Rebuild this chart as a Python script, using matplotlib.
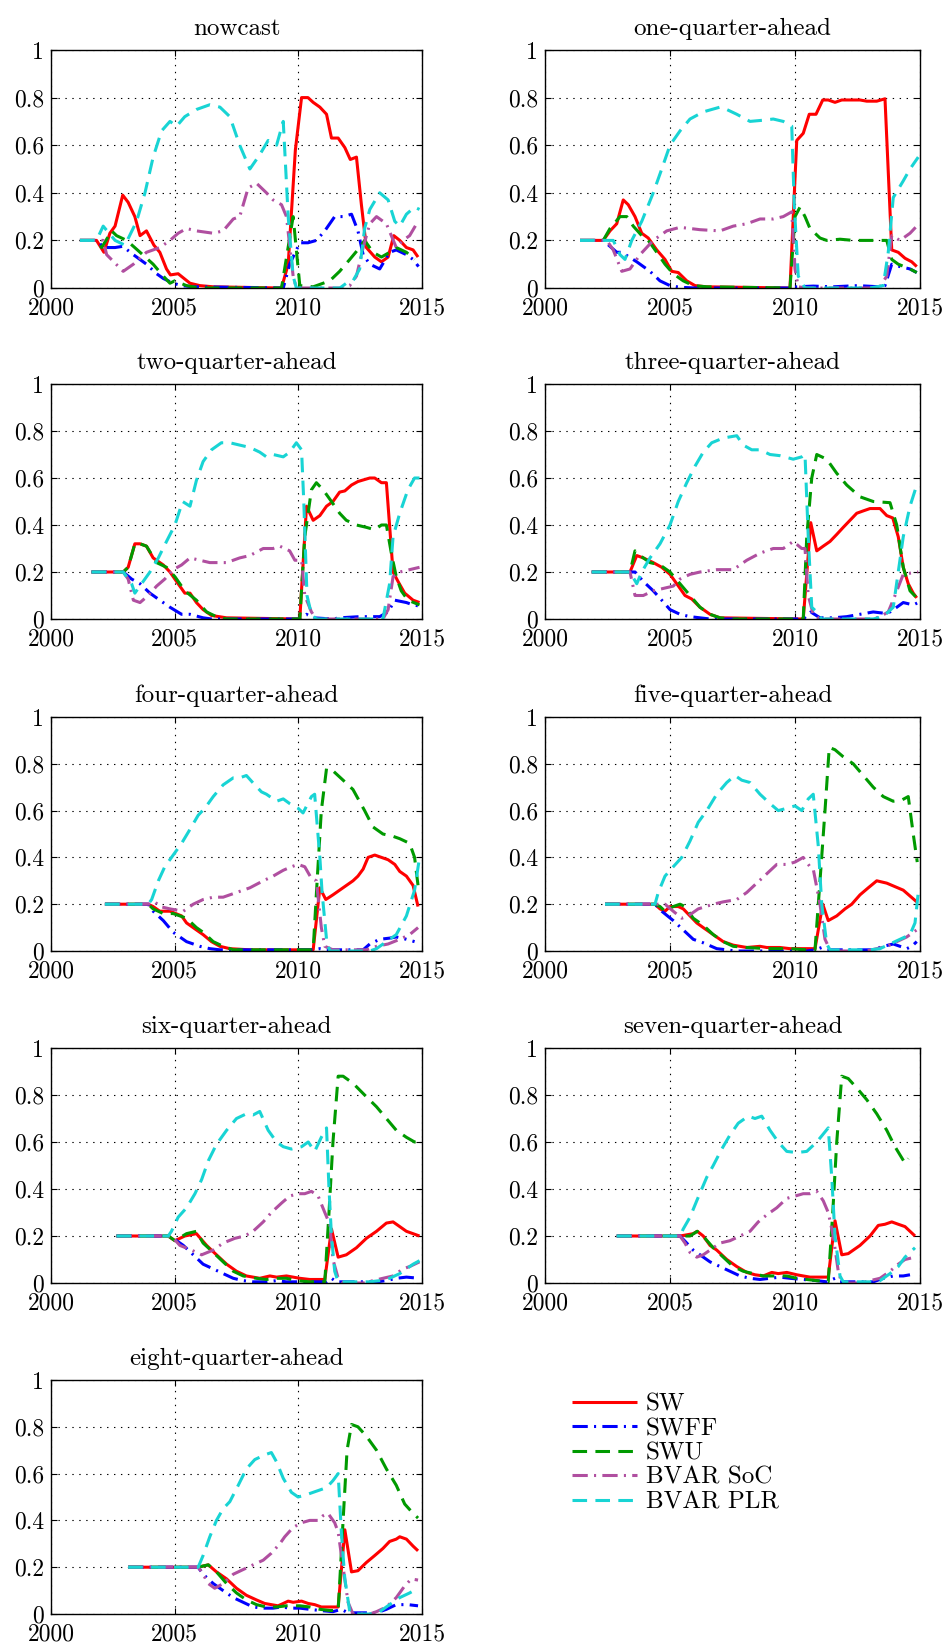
import matplotlib
matplotlib.use("Agg")
import matplotlib.pyplot as plt

plt.rcParams['font.family'] = ['cmr10', 'DejaVu Serif']
plt.rcParams['mathtext.fontset'] = 'cm'
plt.rcParams['axes.formatter.use_mathtext'] = True
plt.rcParams['lines.scale_dashes'] = False

# ---------------- data (time in years, weight) ----------------
titles = ["nowcast", "one-quarter-ahead", "two-quarter-ahead", "three-quarter-ahead",
          "four-quarter-ahead", "five-quarter-ahead", "six-quarter-ahead",
          "seven-quarter-ahead", "eight-quarter-ahead"]
series_names = ["SW", "SWFF", "SWU", "BVAR SoC", "BVAR PLR"]
xticks = [2000, 2005, 2010, 2015]
yticks = [0, 0.2, 0.4, 0.6, 0.8, 1]
ytick_labels = ["0", "0.2", "0.4", "0.6", "0.8", "1"]

# nowcast
h0_sw_t = [2001.17, 2001.84, 2002.14, 2002.38, 2002.59, 2002.9, 2003.12, 2003.39, 2003.6, 2003.86, 2004.16, 2004.4, 2004.67, 2004.83, 2005.14, 2005.62, 2006.02, 2006.56, 2009.32, 2009.59, 2009.88, 2010.13, 2010.39, 2010.6, 2010.87, 2011.14, 2011.34, 2011.61, 2011.88, 2012.1, 2012.35, 2012.55, 2012.75, 2013.09, 2013.36, 2013.63, 2013.86, 2014.1, 2014.37, 2014.64, 2014.84]
h0_sw_v = [.2, .2, .15, .23, .26, .39, .36, .30, .22, .24, .18, .15, .08, .055, .06, .02, .01, .005, 0, .1, .58, .80, .80, .78, .76, .73, .63, .63, .59, .54, .55, .35, .17, .13, .11, .13, .22, .20, .17, .16, .13]
h0_swff_t = [2001.17, 2001.84, 2002.14, 2002.59, 2002.9, 2003.33, 2003.86, 2004.27, 2004.54, 2004.94, 2005.28, 2005.75, 2009.39, 2009.65, 2010.06, 2010.39, 2010.73, 2011.07, 2011.47, 2011.81, 2012.15, 2012.41, 2012.62, 2012.89, 2013.29, 2013.69, 2013.96, 2014.37, 2014.64, 2014.86]
h0_swff_v = [.2, .2, .17, .17, .175, .14, .10, .06, .04, .02, .01, .005, 0, .10, .19, .19, .20, .24, .30, .30, .31, .24, .14, .10, .08, .15, .16, .14, .12, .09]
h0_swu_t = [2001.17, 2001.84, 2002.05, 2002.45, 2002.65, 2003.06, 2003.6, 2004.13, 2004.54, 2004.81, 2005.0, 2005.48, 2006.0, 2009.32, 2009.79, 2010.06, 2010.6, 2011.27, 2011.67, 2012.08, 2012.48, 2012.68, 2013.02, 2013.36, 2013.69, 2013.96, 2014.37, 2014.7]
h0_swu_v = [.2, .2, .17, .24, .22, .20, .15, .10, .05, .02, .03, .01, 0, 0, .30, .01, .005, .03, .07, .12, .17, .20, .15, .13, .15, .17, .15, .12]
h0_soc_t = [2001.17, 2001.84, 2002.11, 2002.25, 2002.92, 2003.33, 2003.86, 2004.4, 2004.81, 2005.14, 2005.48, 2005.88, 2006.56, 2006.96, 2007.37, 2007.63, 2007.97, 2008.31, 2008.71, 2008.98, 2009.32, 2009.52, 2009.79, 2009.92, 2011.81, 2012.08, 2012.35, 2012.62, 2012.89, 2013.16, 2013.56, 2013.76, 2013.96, 2014.23, 2014.5, 2014.84]
h0_soc_v = [.2, .2, .2, .14, .07, .10, .15, .17, .20, .23, .25, .24, .23, .24, .29, .30, .42, .44, .40, .37, .35, .30, .05, 0, 0, .01, .05, .17, .27, .30, .27, .22, .17, .20, .22, .28]
h0_plr_t = [2001.17, 2001.84, 2002.11, 2002.59, 2002.99, 2003.46, 2003.8, 2004.13, 2004.47, 2004.81, 2005.08, 2005.41, 2005.88, 2006.42, 2006.83, 2007.23, 2007.63, 2008.04, 2008.44, 2008.78, 2009.12, 2009.39, 2009.59, 2009.79, 2009.92, 2011.68, 2011.94, 2012.21, 2012.48, 2012.68, 2012.89, 2013.29, 2013.63, 2013.9, 2014.1, 2014.37, 2014.7, 2014.9]
h0_plr_v = [.2, .2, .26, .20, .18, .28, .40, .55, .66, .70, .68, .72, .75, .77, .76, .72, .60, .50, .56, .62, .60, .70, .30, .05, 0, 0, .02, .03, .08, .25, .33, .40, .37, .28, .26, .31, .34, .33]

# one-quarter-ahead
h1_sw_t = [2001.4, 2002.33, 2002.6, 2002.87, 2003.13, 2003.33, 2003.6, 2003.87, 2004.13, 2004.47, 2004.8, 2005.07, 2005.33, 2005.67, 2006.0, 2006.47, 2009.8, 2010.07, 2010.33, 2010.57, 2010.84, 2011.11, 2011.33, 2011.6, 2011.87, 2012.33, 2012.6, 2012.87, 2013.27, 2013.6, 2013.87, 2014.13, 2014.4, 2014.67, 2014.87]
h1_sw_v = [.2, .2, .24, .27, .37, .35, .30, .23, .21, .16, .12, .07, .065, .03, .01, .005, 0, .62, .65, .73, .73, .79, .79, .78, .79, .79, .79, .785, .785, .795, .16, .15, .125, .11, .09]
h1_swff_t = [2001.4, 2002.33, 2002.87, 2003.07, 2003.67, 2004.2, 2004.6, 2005.0, 2005.4, 2006.0, 2009.8, 2010.07, 2010.73, 2011.5, 2012.5, 2013.4, 2013.6, 2013.87, 2014.2, 2014.6, 2014.87]
h1_swff_v = [.2, .2, .15, .15, .11, .07, .03, .01, .003, 0, 0, .005, .008, .005, .01, .005, .01, .10, .09, .08, .065]
h1_swu_t = [2001.4, 2002.33, 2002.6, 2003.0, 2003.27, 2003.53, 2003.87, 2004.13, 2004.47, 2004.8, 2005.13, 2005.53, 2005.93, 2006.47, 2009.8, 2010.0, 2010.2, 2010.4, 2010.6, 2011.0, 2011.27, 2011.8, 2012.33, 2013.4, 2013.67, 2013.87, 2014.13, 2014.6, 2014.87]
h1_swu_v = [.2, .2, .25, .30, .30, .26, .22, .20, .15, .10, .06, .03, .01, .005, 0, .30, .34, .30, .25, .21, .20, .205, .20, .20, .20, .12, .10, .08, .065]
h1_soc_t = [2001.4, 2002.33, 2002.47, 2002.73, 2003.07, 2003.4, 2003.8, 2004.33, 2004.87, 2005.4, 2006.2, 2007.0, 2007.53, 2008.07, 2008.6, 2009.13, 2009.53, 2009.87, 2010.0, 2010.13, 2010.5, 2013.0, 2013.4, 2013.67, 2013.87, 2014.2, 2014.6, 2014.87]
h1_soc_v = [.2, .2, .2, .16, .07, .08, .14, .20, .24, .255, .245, .24, .26, .27, .29, .29, .30, .32, .08, .005, 0, 0, .005, .05, .22, .20, .23, .26]
h1_plr_t = [2001.4, 2002.33, 2002.73, 2003.0, 2003.2, 2003.47, 2003.87, 2004.33, 2004.67, 2005.0, 2005.4, 2005.8, 2006.33, 2007.0, 2007.27, 2007.67, 2008.2, 2008.73, 2009.13, 2009.53, 2009.87, 2009.97, 2010.13, 2010.4, 2013.0, 2013.53, 2013.73, 2013.93, 2014.33, 2014.6, 2014.93]
h1_plr_v = [.2, .2, .20, .14, .12, .20, .28, .40, .50, .60, .66, .71, .74, .76, .75, .73, .70, .705, .71, .70, .68, .35, .05, 0, 0, .01, .15, .38, .45, .50, .55]

# two-quarter-ahead
h2_sw_t = [2001.64, 2002.92, 2003.12, 2003.39, 2003.6, 2003.86, 2004.13, 2004.54, 2004.81, 2005.14, 2005.41, 2005.62, 2005.88, 2006.15, 2006.49, 2007.1, 2010.06, 2010.33, 2010.6, 2010.87, 2011.14, 2011.4, 2011.67, 2011.88, 2012.15, 2012.41, 2012.89, 2013.09, 2013.36, 2013.56, 2013.83, 2014.03, 2014.3, 2014.64, 2014.9]
h2_sw_v = [.2, .2, .22, .32, .32, .31, .26, .23, .20, .15, .11, .11, .07, .04, .015, .005, 0, .48, .42, .44, .48, .50, .54, .545, .57, .585, .60, .60, .58, .58, .20, .16, .11, .08, .07]
h2_swff_t = [2001.64, 2002.92, 2003.26, 2003.6, 2004.0, 2004.4, 2004.81, 2005.28, 2005.62, 2006.15, 2006.5, 2010.06, 2010.33, 2010.6, 2011.4, 2011.67, 2012.48, 2013.29, 2013.63, 2013.9, 2014.37, 2014.64, 2014.9]
h2_swff_v = [.2, .2, .17, .15, .11, .08, .05, .02, .02, .005, 0, 0, .02, .005, 0, .005, .01, .01, .03, .08, .07, .06, .055]
h2_swu_t = [2001.64, 2002.92, 2003.12, 2003.39, 2003.6, 2003.86, 2004.27, 2004.67, 2005.01, 2005.41, 2005.88, 2006.29, 2006.69, 2007.1, 2010.06, 2010.26, 2010.53, 2010.73, 2011.0, 2011.34, 2011.67, 2011.94, 2012.35, 2012.75, 2013.09, 2013.36, 2013.56, 2013.76, 2013.96, 2014.16, 2014.43, 2014.9]
h2_swu_v = [.2, .2, .22, .32, .32, .31, .24, .22, .18, .12, .08, .03, .01, 0, 0, .35, .55, .58, .55, .50, .45, .42, .40, .39, .38, .40, .40, .28, .18, .12, .08, .06]
h2_soc_t = [2001.64, 2002.92, 2003.12, 2003.33, 2003.6, 2003.93, 2004.27, 2004.6, 2004.94, 2005.28, 2005.62, 2006.02, 2006.42, 2007.1, 2007.63, 2008.04, 2008.58, 2008.98, 2009.25, 2009.65, 2009.86, 2010.13, 2010.26, 2010.53, 2010.73, 2013.42, 2013.63, 2013.83, 2014.1, 2014.5, 2014.9]
h2_soc_v = [.2, .2, .17, .08, .07, .10, .14, .17, .21, .23, .26, .25, .24, .24, .26, .27, .30, .30, .31, .29, .25, .25, .10, .03, 0, 0, .04, .18, .20, .21, .22]
h2_plr_t = [2001.64, 2002.92, 2003.26, 2003.39, 2003.66, 2004.0, 2004.34, 2004.67, 2005.01, 2005.32, 2005.62, 2005.88, 2006.15, 2006.49, 2006.89, 2007.23, 2007.63, 2008.04, 2008.44, 2008.71, 2008.98, 2009.39, 2009.65, 2009.92, 2010.13, 2010.22, 2010.35, 2010.53, 2010.73, 2013.42, 2013.69, 2013.83, 2014.1, 2014.43, 2014.7, 2014.97]
h2_plr_v = [.2, .2, .15, .11, .15, .20, .26, .33, .40, .50, .48, .59, .67, .72, .75, .75, .74, .73, .71, .69, .70, .69, .71, .75, .72, .50, .10, .02, 0, 0, .15, .35, .45, .55, .60, .60]

# three-quarter-ahead
h3_sw_t = [2001.87, 2003.4, 2003.67, 2003.93, 2004.33, 2004.67, 2005.0, 2005.27, 2005.6, 2005.87, 2006.2, 2006.6, 2007.0, 2010.33, 2010.63, 2010.87, 2011.13, 2011.4, 2011.67, 2011.93, 2012.2, 2012.47, 2012.73, 2013.0, 2013.4, 2013.67, 2013.91, 2014.13, 2014.33, 2014.53, 2014.73, 2014.87]
h3_sw_v = [.2, .2, .27, .26, .24, .22, .19, .15, .10, .085, .05, .02, .005, 0, .41, .29, .31, .33, .36, .39, .42, .45, .46, .47, .47, .44, .43, .35, .22, .15, .11, .09]
h3_swff_t = [2001.87, 2003.4, 2003.6, 2003.93, 2004.33, 2004.67, 2005.0, 2005.4, 2005.8, 2006.2, 2006.6, 2010.33, 2010.63, 2011.0, 2011.53, 2012.07, 2012.6, 2013.13, 2013.53, 2013.8, 2014.07, 2014.33, 2014.73, 2014.93]
h3_swff_v = [.2, .2, .2, .16, .12, .08, .04, .02, .01, .005, 0, 0, .03, .005, .005, .01, .02, .03, .025, .03, .05, .07, .06, .07]
h3_swu_t = [2001.87, 2003.4, 2003.6, 2003.8, 2004.2, 2004.6, 2005.0, 2005.4, 2005.8, 2006.2, 2006.6, 2007.0, 2007.5, 2010.33, 2010.47, 2010.67, 2010.87, 2011.27, 2011.67, 2012.07, 2012.6, 2013.13, 2013.8, 2014.07, 2014.33, 2014.6, 2014.87]
h3_swu_v = [.2, .2, .29, .27, .24, .23, .20, .15, .10, .05, .02, .005, 0, 0, .35, .60, .70, .68, .62, .57, .52, .50, .495, .40, .22, .12, .09]
h3_soc_t = [2001.87, 2003.4, 2003.6, 2003.93, 2004.33, 2005.13, 2005.4, 2005.8, 2006.2, 2006.87, 2007.53, 2008.07, 2008.6, 2009.13, 2009.53, 2009.93, 2010.27, 2010.4, 2010.53, 2010.73, 2011.0, 2013.13, 2013.4, 2013.73, 2014.0, 2014.33, 2014.6, 2014.93]
h3_soc_v = [.2, .2, .10, .10, .12, .14, .17, .19, .20, .21, .21, .25, .28, .30, .30, .33, .30, .30, .10, .02, 0, 0, .01, .03, .10, .19, .195, .20]
h3_plr_t = [2001.87, 2003.4, 2003.67, 2003.87, 2004.2, 2004.6, 2005.0, 2005.33, 2005.67, 2006.0, 2006.33, 2006.67, 2007.13, 2007.67, 2007.93, 2008.27, 2008.6, 2009.0, 2009.4, 2009.93, 2010.27, 2010.4, 2010.53, 2010.67, 2010.87, 2011.07, 2013.13, 2013.53, 2013.93, 2014.13, 2014.33, 2014.6, 2014.87]
h3_plr_v = [.2, .2, .15, .20, .26, .32, .40, .50, .58, .65, .71, .75, .77, .78, .74, .72, .72, .70, .695, .68, .69, .70, .35, .05, .03, 0, 0, .01, .05, .20, .35, .48, .57]

# four-quarter-ahead
h4_sw_t = [2002.18, 2003.93, 2004.13, 2004.4, 2004.81, 2005.28, 2005.48, 2005.88, 2006.15, 2006.49, 2006.83, 2007.23, 2008.04, 2010.6, 2010.87, 2011.11, 2011.4, 2011.67, 2011.94, 2012.21, 2012.41, 2012.62, 2012.82, 2013.09, 2013.36, 2013.63, 2013.9, 2014.1, 2014.37, 2014.64, 2014.84]
h4_sw_v = [.2, .2, .19, .17, .17, .15, .12, .09, .07, .04, .02, .01, .005, .005, .27, .22, .24, .26, .28, .30, .32, .35, .40, .41, .40, .39, .37, .34, .32, .28, .19]
h4_swff_t = [2002.18, 2003.93, 2004.13, 2004.54, 2004.94, 2005.48, 2006.02, 2006.42, 2006.83, 2010.6, 2010.87, 2011.14, 2012.21, 2012.62, 2012.89, 2013.29, 2013.69, 2013.96, 2014.37, 2014.7]
h4_swff_v = [.2, .2, .17, .13, .08, .04, .02, .01, .005, .005, .01, .005, .005, .005, .03, .05, .055, .06, .05, .04]
h4_swu_t = [2002.18, 2003.93, 2004.13, 2004.54, 2004.94, 2005.48, 2005.88, 2006.15, 2006.56, 2006.96, 2007.37, 2010.6, 2010.76, 2010.93, 2011.14, 2011.4, 2011.81, 2012.21, 2012.68, 2013.02, 2013.42, 2013.83, 2014.1, 2014.5, 2014.7, 2014.84]
h4_swu_v = [.2, .2, .18, .16, .16, .14, .10, .08, .04, .02, .005, .005, .30, .60, .78, .77, .73, .69, .60, .53, .50, .49, .48, .46, .40, .28]
h4_soc_t = [2002.18, 2003.93, 2004.2, 2004.4, 2004.81, 2005.35, 2005.75, 2006.15, 2006.56, 2006.96, 2007.5, 2008.04, 2008.58, 2008.98, 2009.39, 2009.72, 2009.99, 2010.26, 2010.53, 2010.73, 2010.93, 2011.07, 2011.4, 2012.75, 2013.16, 2013.63, 2014.1, 2014.5, 2014.84]
h4_soc_v = [.2, .2, .21, .19, .18, .17, .20, .22, .23, .23, .25, .27, .30, .32, .345, .36, .37, .36, .31, .30, .10, .02, .005, .005, .02, .03, .05, .07, .10]
h4_plr_t = [2002.18, 2003.93, 2004.07, 2004.34, 2004.6, 2004.94, 2005.28, 2005.62, 2005.95, 2006.22, 2006.56, 2006.96, 2007.37, 2007.63, 2007.9, 2008.24, 2008.51, 2008.71, 2009.12, 2009.39, 2009.65, 2009.99, 2010.19, 2010.53, 2010.66, 2010.87, 2010.96, 2011.14, 2011.27, 2012.89, 2013.16, 2013.56, 2013.96, 2014.37, 2014.7, 2014.9]
h4_plr_v = [.2, .2, .22, .30, .36, .41, .46, .52, .58, .61, .66, .71, .74, .74, .75, .71, .68, .67, .64, .65, .63, .61, .59, .66, .67, .40, .25, .05, 0, 0, .01, .04, .07, .15, .26, .40]

# five-quarter-ahead
h5_sw_t = [2002.4, 2004.4, 2004.6, 2004.8, 2005.0, 2005.33, 2005.53, 2005.8, 2006.07, 2006.33, 2006.73, 2007.13, 2007.53, 2007.8, 2008.07, 2008.6, 2008.87, 2009.4, 2009.8, 2010.2, 2010.47, 2010.8, 2011.11, 2011.33, 2011.67, 2012.0, 2012.27, 2012.6, 2012.93, 2013.27, 2013.67, 2014.33, 2014.87]
h5_sw_v = [.2, .2, .18, .17, .19, .19, .18, .15, .12, .10, .07, .04, .025, .02, .015, .02, .015, .015, .01, .01, .01, .01, .20, .13, .15, .18, .20, .24, .27, .30, .29, .26, .21]
h5_swff_t = [2002.4, 2004.4, 2004.67, 2005.13, 2005.53, 2005.93, 2006.33, 2006.87, 2007.27, 2007.6, 2010.47, 2010.8, 2011.07, 2011.4, 2013.13, 2013.53, 2013.93, 2014.47, 2014.67, 2014.87]
h5_swff_v = [.2, .2, .17, .13, .09, .05, .035, .01, .005, 0, 0, .005, .015, .005, .005, .02, .03, .01, .02, .04]
h5_swu_t = [2002.4, 2004.4, 2004.6, 2004.8, 2005.13, 2005.4, 2005.6, 2005.93, 2006.33, 2006.73, 2007.13, 2007.53, 2008.07, 2008.87, 2009.8, 2010.47, 2010.8, 2011.0, 2011.2, 2011.37, 2011.6, 2011.93, 2012.33, 2012.73, 2013.13, 2013.53, 2013.93, 2014.27, 2014.53, 2014.73, 2014.89]
h5_swu_v = [.2, .2, .19, .17, .19, .20, .19, .14, .11, .07, .04, .02, .015, .01, .01, .005, .005, .30, .60, .87, .86, .83, .80, .75, .70, .66, .64, .645, .66, .50, .38]
h5_soc_t = [2002.4, 2004.4, 2004.8, 2005.13, 2005.47, 2005.73, 2006.13, 2006.73, 2007.13, 2007.67, 2008.07, 2008.47, 2008.87, 2009.27, 2009.67, 2010.0, 2010.33, 2010.6, 2010.73, 2011.0, 2011.2, 2011.4, 2011.6, 2012.87, 2013.27, 2013.67, 2014.07, 2014.47, 2014.73, 2014.87]
h5_soc_v = [.2, .2, .20, .17, .14, .15, .18, .20, .21, .22, .25, .29, .33, .37, .37, .38, .40, .36, .35, .20, .05, .005, 0, 0, .01, .02, .04, .06, .08, .09]
h5_plr_t = [2002.4, 2004.4, 2004.53, 2004.8, 2005.13, 2005.47, 2005.8, 2006.13, 2006.47, 2006.87, 2007.27, 2007.6, 2007.87, 2008.2, 2008.6, 2009.0, 2009.33, 2009.67, 2010.0, 2010.27, 2010.53, 2010.73, 2010.93, 2011.07, 2011.27, 2011.4, 2013.0, 2013.4, 2013.8, 2014.2, 2014.6, 2014.8, 2014.93]
h5_plr_v = [.2, .2, .25, .32, .36, .40, .47, .55, .60, .67, .72, .75, .73, .72, .67, .63, .60, .61, .62, .60, .65, .67, .45, .20, .03, .005, .005, .01, .03, .05, .07, .12, .25]

# six-quarter-ahead
h6_sw_t = [2002.65, 2004.74, 2005.01, 2005.41, 2005.88, 2006.29, 2006.69, 2007.1, 2007.5, 2007.9, 2008.17, 2008.44, 2008.85, 2009.12, 2009.52, 2009.79, 2010.06, 2010.46, 2011.07, 2011.34, 2011.61, 2011.94, 2012.35, 2012.75, 2013.16, 2013.56, 2013.83, 2014.37, 2014.9]
h6_sw_v = [.2, .2, .18, .20, .21, .16, .12, .08, .05, .03, .025, .02, .03, .025, .03, .025, .02, .015, .015, .23, .11, .12, .15, .19, .22, .255, .26, .22, .20]
h6_swff_t = [2002.65, 2004.74, 2004.94, 2005.35, 2005.75, 2006.15, 2006.56, 2006.96, 2007.37, 2007.77, 2008.17, 2008.71, 2009.12, 2009.52, 2011.14, 2011.34, 2011.54, 2013.16, 2013.56, 2013.96, 2014.37, 2014.9]
h6_swff_v = [.2, .2, .19, .16, .12, .08, .06, .04, .02, .01, .005, .005, .01, .005, .005, .02, .005, .005, .01, .02, .025, .02]
h6_swu_t = [2002.65, 2004.74, 2005.01, 2005.48, 2005.88, 2006.15, 2006.56, 2006.96, 2007.37, 2007.77, 2008.31, 2008.71, 2009.12, 2009.52, 2009.92, 2010.46, 2011.07, 2011.24, 2011.4, 2011.61, 2011.81, 2012.21, 2012.68, 2013.16, 2013.56, 2013.96, 2014.37, 2014.7, 2014.9]
h6_swu_v = [.2, .2, .18, .21, .22, .17, .13, .09, .05, .03, .02, .015, .02, .02, .01, .005, .005, .30, .60, .88, .88, .85, .80, .75, .70, .65, .62, .60, .60]
h6_soc_t = [2002.65, 2004.74, 2004.87, 2005.21, 2005.68, 2006.09, 2006.56, 2006.96, 2007.43, 2007.83, 2008.17, 2008.58, 2008.91, 2009.32, 2009.65, 2009.99, 2010.26, 2010.53, 2010.8, 2011.07, 2011.27, 2011.4, 2011.61, 2011.81, 2012.62, 2013.02, 2013.42, 2013.83, 2014.23, 2014.5, 2014.9]
h6_soc_v = [.2, .2, .20, .16, .14, .12, .14, .17, .19, .20, .22, .26, .30, .34, .37, .38, .38, .39, .37, .30, .25, .10, .02, 0, 0, .01, .02, .03, .06, .07, .09]
h6_plr_t = [2002.65, 2004.74, 2004.87, 2005.14, 2005.48, 2005.82, 2006.09, 2006.36, 2006.69, 2007.1, 2007.5, 2007.9, 2008.17, 2008.44, 2008.78, 2009.12, 2009.39, 2009.72, 2010.13, 2010.4, 2010.66, 2010.93, 2011.14, 2011.24, 2011.34, 2011.47, 2011.61, 2012.89, 2013.29, 2013.69, 2014.1, 2014.37, 2014.64, 2014.9]
h6_plr_v = [.2, .2, .22, .28, .32, .38, .44, .52, .59, .65, .70, .72, .715, .73, .65, .60, .58, .57, .58, .60, .56, .62, .66, .40, .20, .05, .005, .005, .01, .02, .04, .06, .08, .095]

# seven-quarter-ahead
h7_sw_t = [2002.87, 2005.4, 2005.67, 2005.93, 2006.09, 2006.33, 2006.6, 2006.87, 2007.27, 2007.67, 2008.07, 2008.4, 2008.73, 2009.07, 2009.33, 2009.67, 2010.07, 2010.33, 2010.6, 2011.0, 2011.33, 2011.6, 2011.87, 2012.13, 2012.6, 2013.0, 2013.33, 2013.6, 2013.87, 2014.13, 2014.4, 2014.8]
h7_sw_v = [.2, .2, .205, .21, .22, .20, .16, .14, .10, .07, .045, .035, .03, .045, .04, .045, .035, .03, .025, .025, .025, .265, .12, .125, .16, .20, .245, .25, .26, .25, .24, .20]
h7_swff_t = [2002.87, 2005.4, 2005.67, 2005.93, 2006.2, 2006.6, 2007.0, 2007.4, 2007.8, 2008.2, 2008.6, 2009.0, 2009.4, 2009.8, 2010.33, 2010.87, 2011.27, 2011.6, 2011.8, 2013.13, 2013.53, 2013.93, 2014.33, 2014.6]
h7_swff_v = [.2, .2, .17, .14, .12, .09, .07, .05, .03, .02, .015, .02, .025, .02, .015, .01, .005, .02, .005, .005, .02, .03, .03, .035]
h7_swu_t = [2002.87, 2005.4, 2005.8, 2006.09, 2006.4, 2006.73, 2007.13, 2007.53, 2007.93, 2008.33, 2008.73, 2009.13, 2009.67, 2010.07, 2010.47, 2010.87, 2011.33, 2011.51, 2011.67, 2011.87, 2012.13, 2012.47, 2012.87, 2013.27, 2013.67, 2014.0, 2014.4, 2014.53]
h7_swu_v = [.2, .2, .20, .22, .19, .15, .11, .07, .05, .04, .03, .03, .03, .02, .015, .01, .005, .30, .60, .88, .87, .83, .78, .72, .65, .58, .51, .53]
h7_soc_t = [2002.87, 2005.4, 2005.6, 2005.8, 2006.07, 2006.33, 2006.6, 2007.0, 2007.4, 2007.8, 2008.2, 2008.53, 2008.87, 2009.27, 2009.67, 2010.0, 2010.33, 2010.6, 2010.87, 2011.13, 2011.33, 2011.53, 2011.73, 2011.87, 2012.6, 2013.0, 2013.4, 2013.8, 2014.13, 2014.4, 2014.8]
h7_soc_v = [.2, .2, .17, .13, .11, .12, .14, .17, .18, .20, .22, .26, .29, .32, .36, .37, .38, .38, .39, .35, .30, .20, .05, 0, 0, .01, .02, .05, .08, .10, .11]
h7_plr_t = [2002.87, 2005.4, 2005.53, 2005.8, 2006.07, 2006.47, 2006.73, 2007.07, 2007.4, 2007.73, 2008.13, 2008.4, 2008.67, 2009.0, 2009.33, 2009.67, 2010.07, 2010.47, 2010.87, 2011.33, 2011.47, 2011.6, 2011.8, 2011.93, 2013.13, 2013.4, 2013.8, 2014.13, 2014.4, 2014.8]
h7_plr_v = [.2, .2, .23, .28, .35, .45, .50, .57, .63, .68, .71, .70, .71, .65, .60, .56, .555, .56, .60, .66, .45, .20, .03, .005, .005, .01, .04, .07, .11, .15]

# eight-quarter-ahead
h8_sw_t = [2003.12, 2005.95, 2006.15, 2006.36, 2006.69, 2007.1, 2007.5, 2007.9, 2008.31, 2008.64, 2008.91, 2009.18, 2009.39, 2009.59, 2009.79, 2010.13, 2010.4, 2010.66, 2010.93, 2011.27, 2011.61, 2011.88, 2012.15, 2012.41, 2012.75, 2013.09, 2013.42, 2013.69, 2013.96, 2014.1, 2014.37, 2014.64, 2014.84]
h8_sw_v = [.2, .2, .205, .21, .18, .15, .11, .08, .06, .045, .04, .035, .045, .055, .05, .055, .045, .04, .03, .03, .03, .36, .18, .185, .22, .25, .28, .31, .32, .33, .32, .29, .27]
h8_swff_t = [2003.12, 2005.95, 2006.15, 2006.56, 2006.96, 2007.37, 2007.77, 2008.17, 2008.58, 2008.98, 2009.32, 2009.65, 2010.06, 2010.46, 2010.87, 2011.4, 2011.74, 2012.01, 2013.16, 2013.56, 2013.96, 2014.43, 2014.84]
h8_swff_v = [.2, .2, .17, .13, .10, .07, .05, .03, .025, .025, .03, .025, .025, .02, .015, .01, .02, .005, .005, .02, .04, .04, .035]
h8_swu_t = [2003.12, 2005.95, 2006.15, 2006.36, 2006.69, 2007.1, 2007.5, 2007.9, 2008.31, 2008.71, 2009.12, 2009.52, 2010.06, 2010.46, 2010.87, 2011.27, 2011.61, 2011.81, 2011.97, 2012.15, 2012.41, 2012.75, 2013.16, 2013.56, 2013.96, 2014.3, 2014.64, 2014.84]
h8_swu_v = [.2, .2, .205, .21, .18, .13, .09, .06, .04, .03, .03, .035, .035, .03, .02, .015, .015, .40, .70, .81, .80, .76, .70, .62, .55, .47, .43, .41]
h8_soc_t = [2003.12, 2005.95, 2006.09, 2006.36, 2006.62, 2006.96, 2007.37, 2007.77, 2008.17, 2008.58, 2008.91, 2009.25, 2009.45, 2009.79, 2010.13, 2010.46, 2010.8, 2011.0, 2011.2, 2011.47, 2011.61, 2011.81, 2012.01, 2012.21, 2012.89, 2013.16, 2013.56, 2013.96, 2014.3, 2014.57, 2014.84]
h8_soc_v = [.2, .2, .18, .13, .11, .13, .17, .19, .21, .23, .26, .30, .33, .37, .39, .40, .40, .42, .43, .39, .35, .20, .05, 0, 0, .01, .03, .07, .12, .15, .145]
h8_plr_t = [2003.12, 2005.95, 2006.15, 2006.42, 2006.69, 2006.96, 2007.23, 2007.57, 2007.9, 2008.24, 2008.64, 2008.91, 2009.12, 2009.39, 2009.72, 2009.99, 2010.33, 2010.6, 2010.87, 2011.14, 2011.4, 2011.61, 2011.74, 2011.88, 2012.08, 2012.28, 2012.89, 2013.29, 2013.69, 2014.1, 2014.5, 2014.84]
h8_plr_v = [.2, .2, .25, .33, .40, .45, .48, .55, .62, .66, .68, .69, .65, .58, .52, .50, .51, .52, .53, .54, .57, .60, .35, .15, .01, 0, 0, .01, .04, .07, .09, .11]

panels = [
    [(h0_sw_t, h0_sw_v), (h0_swff_t, h0_swff_v), (h0_swu_t, h0_swu_v), (h0_soc_t, h0_soc_v), (h0_plr_t, h0_plr_v)],
    [(h1_sw_t, h1_sw_v), (h1_swff_t, h1_swff_v), (h1_swu_t, h1_swu_v), (h1_soc_t, h1_soc_v), (h1_plr_t, h1_plr_v)],
    [(h2_sw_t, h2_sw_v), (h2_swff_t, h2_swff_v), (h2_swu_t, h2_swu_v), (h2_soc_t, h2_soc_v), (h2_plr_t, h2_plr_v)],
    [(h3_sw_t, h3_sw_v), (h3_swff_t, h3_swff_v), (h3_swu_t, h3_swu_v), (h3_soc_t, h3_soc_v), (h3_plr_t, h3_plr_v)],
    [(h4_sw_t, h4_sw_v), (h4_swff_t, h4_swff_v), (h4_swu_t, h4_swu_v), (h4_soc_t, h4_soc_v), (h4_plr_t, h4_plr_v)],
    [(h5_sw_t, h5_sw_v), (h5_swff_t, h5_swff_v), (h5_swu_t, h5_swu_v), (h5_soc_t, h5_soc_v), (h5_plr_t, h5_plr_v)],
    [(h6_sw_t, h6_sw_v), (h6_swff_t, h6_swff_v), (h6_swu_t, h6_swu_v), (h6_soc_t, h6_soc_v), (h6_plr_t, h6_plr_v)],
    [(h7_sw_t, h7_sw_v), (h7_swff_t, h7_swff_v), (h7_swu_t, h7_swu_v), (h7_soc_t, h7_soc_v), (h7_plr_t, h7_plr_v)],
    [(h8_sw_t, h8_sw_v), (h8_swff_t, h8_swff_v), (h8_swu_t, h8_swu_v), (h8_soc_t, h8_soc_v), (h8_plr_t, h8_plr_v)],
]

# ---------------- style ----------------
colors = ['#FF0000', '#0000FF', '#009A00', '#B04FA0', '#18D4D4']
dashdot = (0, (11, 4.5, 1.5, 4.5))
dashed = (0, (10.5, 6))
styles = ['-', dashdot, dashed, dashdot, dashed]
LW = 2.2

W, H = 946, 1643
fig = plt.figure(figsize=(W / 100, H / 100), dpi=100)

cols = [(51, 422), (545, 920)]
rows = [(50, 288), (384, 619), (717, 951), (1048, 1283), (1380, 1614)]

FS = 17
handles = []
for i, (title, data) in enumerate(zip(titles, panels)):
    r, c = divmod(i, 2)
    x0, x1 = cols[c]
    top, bot = rows[r]
    ax = fig.add_axes([x0 / W, 1 - bot / H, (x1 - x0) / W, (bot - top) / H])
    for k, (t, v) in enumerate(data):
        ln, = ax.plot(t, v, color=colors[k], linestyle=styles[k], lw=LW,
                      dash_capstyle='butt', solid_capstyle='butt', label=series_names[k])
        if i == 0:
            handles.append(ln)
    ax.set_xlim(2000, 2015)
    ax.set_ylim(0, 1)
    ax.set_xticks(xticks)
    ax.set_xticklabels([str(x) for x in xticks])
    ax.set_yticks(yticks)
    ax.set_yticklabels(ytick_labels)
    ax.grid(True, color='black', linestyle=(0, (1, 4)), linewidth=0.8)
    ax.tick_params(direction='in', length=4, width=0.8, top=True, right=True,
                   labelsize=FS, pad=5)
    ax.tick_params(axis='x', pad=7)
    for s in ax.spines.values():
        s.set_linewidth(1.0)
    ax.set_title(title, fontsize=18, pad=11)

leg = fig.legend(handles=handles, labels=series_names, loc='upper left',
                 bbox_to_anchor=(562 / W, 1 - 1383 / H), frameon=False,
                 fontsize=18, handlelength=2.6, handletextpad=0.35,
                 labelspacing=0.08, borderaxespad=0)

fig.savefig("out.png", dpi=100)
